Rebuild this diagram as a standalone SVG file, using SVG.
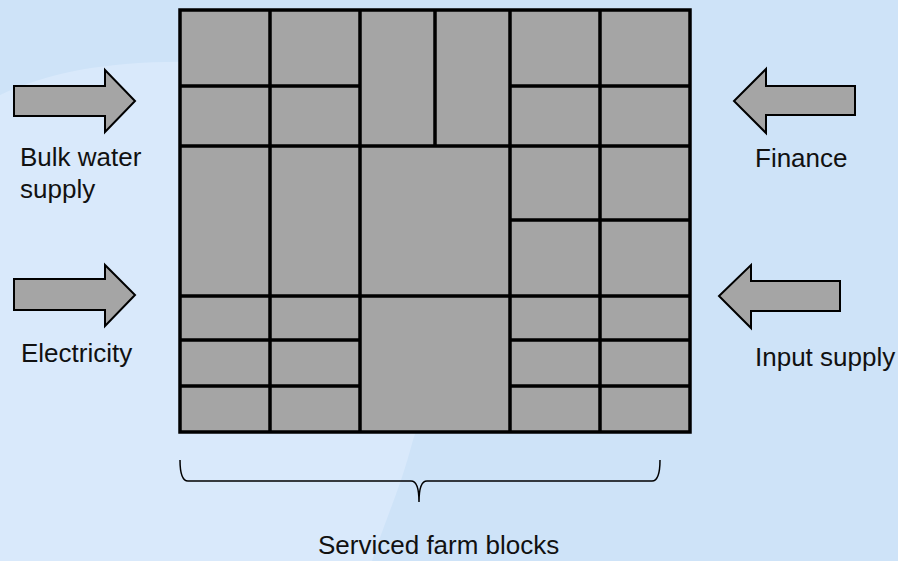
<svg xmlns="http://www.w3.org/2000/svg" width="898" height="561" viewBox="0 0 898 561">
<style>
.bg{fill:#cee3f8}
.bg2{fill:#d9e9fb}
.cell{fill:#a5a5a5;stroke:#000;stroke-width:3.5}
.div{stroke:#000;stroke-width:3.5;fill:none}
.arr{fill:#a5a5a5;stroke:#000;stroke-width:2;stroke-linejoin:miter}
.lbl{font-family:"Liberation Sans",Arial,sans-serif;font-size:26px;fill:#111}
.brace{fill:none;stroke:#000;stroke-width:1.5}
</style>
<rect class="bg" x="0" y="0" width="898" height="561"/>
<path class="bg2" d="M0,95 C50,72 110,60 200,62 L430,70 C425,250 430,400 413,440 C400,490 385,520 372,561 L0,561 Z"/>
<g id="grid">
<rect class="cell" x="180" y="10" width="510" height="422"/>
<g class="div">
<path d="M270,10 V432 M360,10 V432 M435,10 V146 M510,10 V432 M600,10 V432"/>
<path d="M180,86 H360 M510,86 H690 M180,146 H690 M510,220 H690 M180,296 H690 M180,340 H360 M510,340 H690 M180,386 H360 M510,386 H690"/>
</g>
</g>
<g id="bulk-water">
<path class="arr" d="M14,86 L105,86 L105,70 L135,101 L105,132 L105,116 L14,116 Z"/>
<text class="lbl" x="20" y="166">Bulk water</text>
<text class="lbl" x="20" y="198">supply</text>
</g>
<g id="electricity">
<path class="arr" d="M14,279 L105,279 L105,265 L135,295 L105,326 L105,310 L14,310 Z"/>
<text class="lbl" x="21" y="362">Electricity</text>
</g>
<g id="finance">
<path class="arr" d="M855,86 L766,86 L766,69 L734,101 L766,133 L766,115 L855,115 Z"/>
<text class="lbl" x="755" y="167">Finance</text>
</g>
<g id="input-supply">
<path class="arr" d="M840,281 L751,281 L751,265 L719,296 L751,328 L751,311 L840,311 Z"/>
<text class="lbl" x="755" y="366">Input supply</text>
</g>
<g id="connectors">
<path class="brace" d="M180,460 Q180,481 188,481 L411,481 Q419,481 419,502 Q419,481 427,481 L652,481 Q660,481 660,460"/>
</g>
<g id="serviced">
<text class="lbl" x="318" y="554">Serviced farm blocks</text>
</g>
</svg>
